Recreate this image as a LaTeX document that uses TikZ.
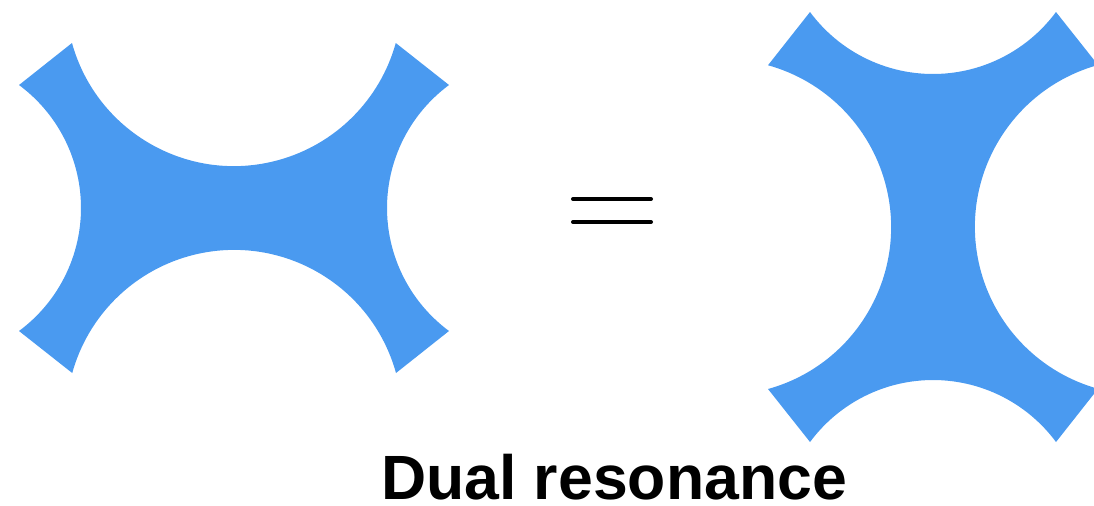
\documentclass[tikz,border=0pt]{standalone}
\usepackage{fontspec}
\newfontfamily\titlefont{Liberation Sans}
\usetikzlibrary{positioning}
\definecolor{resblue}{RGB}{74,154,240}

\tikzset{
  resshape/.pic={
    \fill[resblue] (-162,-165) arc[start angle=164.5, end angle=15.5, radius=168]
      -- (215,-123) arc[start angle=233.5, end angle=126.5, radius=153]
      -- (162,165) arc[start angle=-15.5, end angle=-164.5, radius=168]
      -- (-215,123) arc[start angle=53.5, end angle=-53.5, radius=153]
      -- cycle;
  },
  eqline/.style={line width=0.08cm, line cap=round}
}

\begin{document}
\begin{tikzpicture}[x=0.02cm, y=-0.02cm]
  \useasboundingbox (0,0) rectangle (1094,505);
  \clip (0,0) rectangle (1094,505);

  % left diagram
  \pic at (234,208) {resshape};

  % equals sign
  \coordinate (eqa) at (573,199);
  \coordinate (eqb) at (651,199);
  \coordinate (eqc) at (573,222);
  \coordinate (eqd) at (651,222);
  \draw[eqline] (eqa) -- (eqb);
  \draw[eqline] (eqc) -- (eqd);

  % right diagram (turned by 90 degrees)
  \pic[rotate=90] at (933,227) {resshape};

  \node[anchor=base, inner sep=0pt, font=\titlefont\bfseries\fontsize{35.6}{38}\selectfont] (title) at (614,499) {Dual resonance};
\end{tikzpicture}
\end{document}
